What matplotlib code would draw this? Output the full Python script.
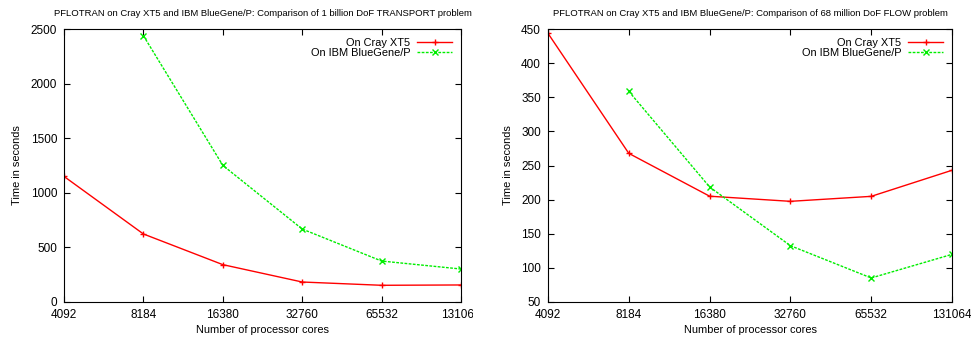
import matplotlib
matplotlib.use('Agg')
from matplotlib import pyplot as plt
from matplotlib.transforms import Bbox
import numpy as np

plt.rcParams['font.family'] = ['Liberation Sans', 'DejaVu Sans']

cores = [4092, 8184, 16380, 32760, 65532, 131064]
core_labels = ['4092', '8184', '16380', '32760', '65532', '131064']

# transport problem (1 billion DoF)
transport_cray = [1150, 623, 342, 183, 153, 156]
transport_bgp = [2439, 1251, 668, 375, 302]   # starts at 8184 cores

# flow problem (68 million DoF)
flow_cray = [443.6, 267.8, 205, 197.5, 204.8, 243]
flow_bgp = [358.7, 218.5, 132.5, 85.2, 119.8]  # starts at 8184 cores

titles = [
    'PFLOTRAN on Cray XT5 and IBM BlueGene/P: Comparison of 1 billion DoF TRANSPORT problem',
    'PFLOTRAN on Cray XT5 and IBM BlueGene/P: Comparison of 68 million DoF FLOW problem',
]

W, H = 971, 337
fig = plt.figure(figsize=(W / 100, H / 100), dpi=100)

panels = [
    (transport_cray, transport_bgp, (0, 2500), np.arange(0, 2501, 500), (64, 461)),
    (flow_cray, flow_bgp, (50, 450), np.arange(50, 451, 50), (548, 952)),
]

for k, (cray, bgp, ylim, yticks, (px0, px1)) in enumerate(panels):
    ax = fig.add_axes([px0 / W, 1 - 302 / H, (px1 - px0) / W, (302 - 29) / H])
    ax.plot(cores, cray, color='#ff0000', lw=1.0, marker='+', ms=5, mew=1.0,
            label='On Cray XT5')
    ax.plot(cores[1:], bgp, color='#00ee00', lw=1.0, ls=(0, (2, 1)), marker='x',
            ms=4, mew=1.0, label='On IBM BlueGene/P')
    ax.set_xscale('log', base=2)
    ax.set_xlim(cores[0], cores[-1])
    ax.set_xticks(cores)
    ax.set_xticklabels(core_labels)
    ax.minorticks_off()
    ax.set_ylim(*ylim)
    ax.set_yticks(yticks)
    ax.tick_params(direction='in', length=4, width=0.8, top=True, right=True,
                   labelsize=8.5)
    ax.tick_params(axis='x', pad=5)
    ax.tick_params(axis='y', pad=5)
    for s in ax.spines.values():
        s.set_linewidth(0.8)
    ax.set_xlabel('Number of processor cores', fontsize=7.9, labelpad=3)
    ax.set_ylabel('Time in seconds', fontsize=7.9, labelpad=6)
    ax.set_title(titles[k], fontsize=6.8, pad=9)
    ax.legend(loc='upper right', frameon=False, markerfirst=False, fontsize=7.9,
              handlelength=3.2, handletextpad=0.6, borderaxespad=0.4,
              labelspacing=0.05)
    if k == 0:
        # last tick label is cut off at the panel edge in the original
        clip = Bbox.from_extents(0, 0, 473, H)
        for lab in ax.get_xticklabels():
            lab.set_clip_on(True)
            lab.set_clip_box(clip)

fig.savefig('out.png', dpi=100)
